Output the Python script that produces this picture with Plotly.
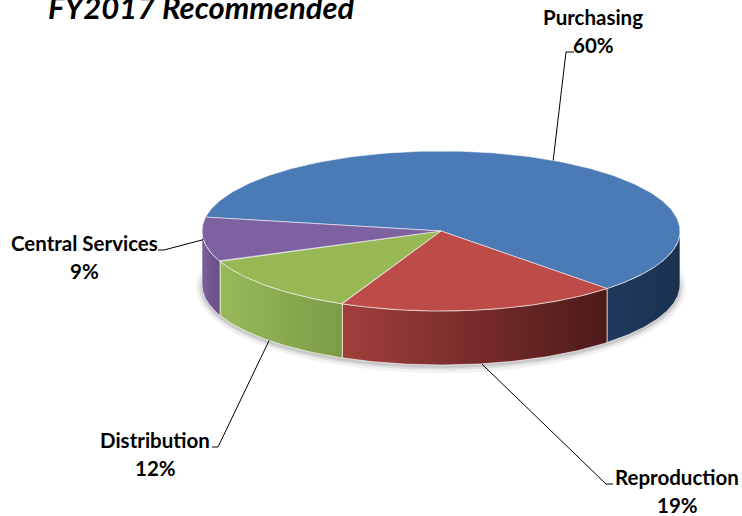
import numpy as np
import plotly.graph_objects as go

title = "FY2017 Recommended"
categories = ["Purchasing", "Reproduction", "Distribution", "Central Services"]
values = [60, 19, 12, 9]
pct_labels = ["60%", "19%", "12%", "9%"]

# styles
top_colors = ["#4A7BB7", "#BD4B48", "#97B855", "#7E61A0"]
wall_left = ["#1F3A5C", "#A23F3C", "#98BA59", "#7C5E9B"]
wall_right = ["#1C3150", "#4C1A19", "#7C9B47", "#6A4E87"]
anchor_depth = [0, 1, 1, 0]           # leader anchor on top edge (0) or wall bottom (1)
label_xy = [(593, 17), (677, 477), (155, 440), (84, 243)]   # label centre, first line
elbow = [((566, 52), (574, 52)), ((606, 484), (613, 484)),
         ((218, 447), (212, 447)), ((164, 250), (158, 250))]

CX, CY, RX, RY, DEPTH = 441, 231, 239, 80, 54
START = 170  # degrees, slices run clockwise
FONT = "Lato"
LABEL_SIZE = 20.5

total = sum(values)
angles = [START]
for v in values:
    angles.append(angles[-1] - 360.0 * v / total)


def pts(thetas, dy=0.0, rx=RX, ry=RY):
    t = np.radians(np.asarray(thetas, dtype=float))
    return CX + rx * np.cos(t), CY - ry * np.sin(t) + dy


fig = go.Figure()

# soft shadow under the pie
for grow, alpha in [(6, 0.05), (3, 0.08), (1, 0.10)]:
    full = np.linspace(0, 360, 181)
    sx, sy = pts(full, DEPTH + 2, RX + grow, RY + grow)
    fig.add_trace(go.Scatter(x=sx, y=sy, mode="lines", fill="toself",
                             fillcolor=f"rgba(0,0,0,{alpha})", line=dict(width=0),
                             hoverinfo="skip", showlegend=False))

# side walls (front half only)
for i in range(len(values)):
    a, b = angles[i], angles[i + 1]
    for k in range(-2, 2):
        lo, hi = -180 + 360 * k, 360 * k
        s, e = max(b, lo), min(a, hi)
        if e - s <= 0.01:
            continue
        th = np.linspace(e, s, 80)
        tx, ty = pts(th)
        bx, by = pts(th[::-1], DEPTH)
        xs = np.concatenate([tx, bx, tx[:1]])
        ys = np.concatenate([ty, by, ty[:1]])
        fig.add_trace(go.Scatter(
            x=xs, y=ys, mode="lines", fill="toself",
            fillgradient=dict(type="horizontal",
                              colorscale=[[0, wall_left[i]], [1, wall_right[i]]]),
            line=dict(color="rgba(255,255,255,0.6)", width=1),
            hoverinfo="skip", showlegend=False))

# top faces
for i in range(len(values)):
    a, b = angles[i], angles[i + 1]
    th = np.linspace(a, b, 200)
    tx, ty = pts(th)
    xs = np.concatenate([[CX], tx, [CX]])
    ys = np.concatenate([[CY], ty, [CY]])
    fig.add_trace(go.Scatter(
        x=xs, y=ys, mode="lines", fill="toself", fillcolor=top_colors[i],
        line=dict(color="rgba(255,255,255,0.55)", width=1),
        name=categories[i], hoverinfo="name", showlegend=False))

# leader lines and labels
for i in range(len(values)):
    mid = (angles[i] + angles[i + 1]) / 2.0
    ax, ay = pts([mid], DEPTH * anchor_depth[i])
    (e1x, e1y), (e2x, e2y) = elbow[i]
    fig.add_trace(go.Scatter(x=[ax[0], e1x, e2x], y=[ay[0], e1y, e2y], mode="lines",
                             line=dict(color="black", width=1),
                             hoverinfo="skip", showlegend=False))
    lx, ly = label_xy[i]
    fig.add_annotation(x=lx, y=ly, text=f"<b>{categories[i]}</b>", showarrow=False,
                       xanchor="center", yanchor="middle",
                       font=dict(family=FONT, size=LABEL_SIZE, color="black"))
    fig.add_annotation(x=lx, y=ly + 28, text=f"<b>{pct_labels[i]}</b>", showarrow=False,
                       xanchor="center", yanchor="middle",
                       font=dict(family=FONT, size=LABEL_SIZE, color="black"))

fig.add_annotation(x=201, y=7, text=f"<b><i>{title}</i></b>", showarrow=False,
                   xanchor="center", yanchor="middle",
                   font=dict(family=FONT, size=31, color="black"))

fig.update_layout(
    width=742, height=516, margin=dict(l=0, r=0, t=0, b=0),
    paper_bgcolor="white", plot_bgcolor="white",
    xaxis=dict(range=[0, 742], visible=False, fixedrange=True),
    yaxis=dict(range=[516, 0], visible=False, fixedrange=True),
    showlegend=False,
)

fig.write_html("out.html", config={"displayModeBar": False},
               post_script="document.body.style.margin='0px';document.body.style.overflow='hidden';")
